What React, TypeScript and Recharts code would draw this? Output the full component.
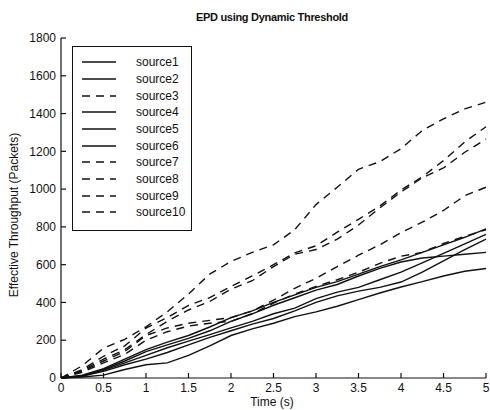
import { LineChart, Line, XAxis, YAxis } from 'recharts';

// time axis (s)
const TIME = [0, 0.25, 0.5, 0.75, 1, 1.25, 1.5, 1.75, 2, 2.25, 2.5, 2.75, 3, 3.25, 3.5, 3.75, 4, 4.25, 4.5, 4.75, 5];

// effective throughput (packets)
const SOURCE1 = [0, 15, 50, 100, 150, 190, 225, 270, 320, 355, 400, 440, 480, 510, 550, 590, 625, 665, 705, 745, 790];
const SOURCE2 = [0, 12, 45, 90, 140, 175, 210, 250, 300, 340, 385, 425, 465, 495, 540, 580, 614, 635, 645, 655, 665];
const SOURCE3 = [0, 65, 158, 205, 271, 350, 445, 550, 617, 665, 705, 785, 918, 1010, 1105, 1145, 1214, 1310, 1372, 1425, 1460];
const SOURCE4 = [0, 10, 40, 80, 120, 160, 195, 230, 265, 300, 340, 370, 420, 455, 480, 520, 560, 610, 660, 710, 760];
const SOURCE5 = [0, 10, 35, 70, 100, 135, 175, 215, 250, 285, 315, 355, 400, 435, 460, 480, 508, 560, 620, 680, 735];
const SOURCE6 = [0, 5, 15, 45, 70, 80, 120, 170, 225, 260, 290, 325, 350, 380, 415, 450, 482, 510, 540, 565, 580];
const SOURCE7 = [0, 45, 115, 170, 264, 320, 385, 425, 485, 540, 600, 662, 700, 772, 840, 910, 995, 1065, 1151, 1250, 1330];
const SOURCE8 = [0, 40, 100, 150, 230, 300, 360, 405, 470, 515, 590, 655, 680, 735, 810, 900, 985, 1060, 1112, 1195, 1265];
const SOURCE9 = [0, 35, 90, 140, 225, 265, 290, 305, 320, 355, 412, 475, 528, 590, 650, 705, 770, 825, 887, 965, 1010];
const SOURCE10 = [0, 30, 80, 125, 200, 245, 275, 290, 300, 340, 396, 445, 485, 520, 560, 607, 645, 665, 712, 750, 785];

const SERIES_NAMES = ['source1', 'source2', 'source3', 'source4', 'source5', 'source6', 'source7', 'source8', 'source9', 'source10'];
const SERIES_VALUES = [SOURCE1, SOURCE2, SOURCE3, SOURCE4, SOURCE5, SOURCE6, SOURCE7, SOURCE8, SOURCE9, SOURCE10];
const DASHED = ['source3', 'source7', 'source8', 'source9', 'source10'];

const X_TICKS = [0, 0.5, 1, 1.5, 2, 2.5, 3, 3.5, 4, 4.5, 5];
const Y_TICKS = [0, 200, 400, 600, 800, 1000, 1200, 1400, 1600, 1800];

const FONT = '"Liberation Sans", Arial, sans-serif';
const INK = '#111';

function LegendBox() {
  return (
    <div
      style={{
        position: 'absolute',
        left: 72,
        top: 46,
        width: 120,
        height: 185,
        border: `1px solid ${INK}`,
        background: '#fff',
        boxSizing: 'border-box',
        paddingTop: 7,
      }}
    >
      {SERIES_NAMES.map(name => (
        <div key={name} style={{ height: 16.67, display: 'flex', alignItems: 'center' }}>
          <svg width={34} height={4} style={{ marginLeft: 9 }}>
            <line
              x1={0}
              y1={2}
              x2={34}
              y2={2}
              stroke={INK}
              strokeWidth={1.4}
              strokeDasharray={DASHED.includes(name) ? '8 6' : undefined}
            />
          </svg>
          <span style={{ marginLeft: 20, fontSize: 12, lineHeight: '14px', color: INK }}>{name}</span>
        </div>
      ))}
    </div>
  );
}

export default function App() {
  const data = TIME.map((t, i) => {
    const row: Record<string, number> = { t };
    SERIES_NAMES.forEach((name, k) => {
      row[name] = SERIES_VALUES[k][i];
    });
    return row;
  });

  const tickStyle = { fontSize: 12, fill: INK, fontFamily: FONT };

  return (
    <div
      style={{
        position: 'absolute',
        left: 0,
        top: 0,
        width: 490,
        height: 410,
        background: '#fff',
        fontFamily: FONT,
        color: INK,
      }}
    >
      <LineChart width={490} height={410} data={data} margin={{ top: 38, right: 4, bottom: 12, left: 0 }}>
        <XAxis
          dataKey="t"
          type="number"
          domain={[0, 5]}
          ticks={X_TICKS}
          height={20}
          tickSize={-5}
          tickMargin={10}
          tick={tickStyle}
          stroke={INK}
          strokeWidth={1.2}
        />
        <XAxis
          xAxisId="top"
          orientation="top"
          type="number"
          domain={[0, 5]}
          ticks={X_TICKS}
          height={0}
          tickSize={-5}
          tick={false}
          stroke={INK}
          strokeWidth={1.2}
        />
        <YAxis
          domain={[0, 1800]}
          ticks={Y_TICKS}
          width={61}
          tickSize={-5}
          tickMargin={10}
          tick={tickStyle}
          stroke={INK}
          strokeWidth={1.2}
        />
        <YAxis
          yAxisId="right"
          orientation="right"
          domain={[0, 1800]}
          ticks={Y_TICKS}
          width={0}
          tickSize={-5}
          tick={false}
          stroke={INK}
          strokeWidth={1.2}
        />
        {SERIES_NAMES.map(name => (
          <Line
            key={name}
            type="linear"
            dataKey={name}
            stroke={INK}
            strokeWidth={1.4}
            strokeDasharray={DASHED.includes(name) ? '8 6' : undefined}
            dot={false}
            isAnimationActive={false}
          />
        ))}
      </LineChart>

      <div
        style={{
          position: 'absolute',
          left: 272,
          top: 11,
          transform: 'translateX(-50%)',
          fontSize: 11,
          fontWeight: 600,
          whiteSpace: 'nowrap',
          letterSpacing: -0.3,
        }}
      >
        EPD using Dynamic Threshold
      </div>
      <div
        style={{
          position: 'absolute',
          left: 14,
          top: 215,
          transform: 'translate(-50%, -50%) rotate(-90deg)',
          fontSize: 12,
          whiteSpace: 'nowrap',
        }}
      >
        Effective Throughput (Packets)
      </div>
      <div
        style={{
          position: 'absolute',
          left: 272,
          top: 395,
          transform: 'translateX(-50%)',
          fontSize: 12,
          whiteSpace: 'nowrap',
        }}
      >
        Time (s)
      </div>
      <LegendBox />
    </div>
  );
}
